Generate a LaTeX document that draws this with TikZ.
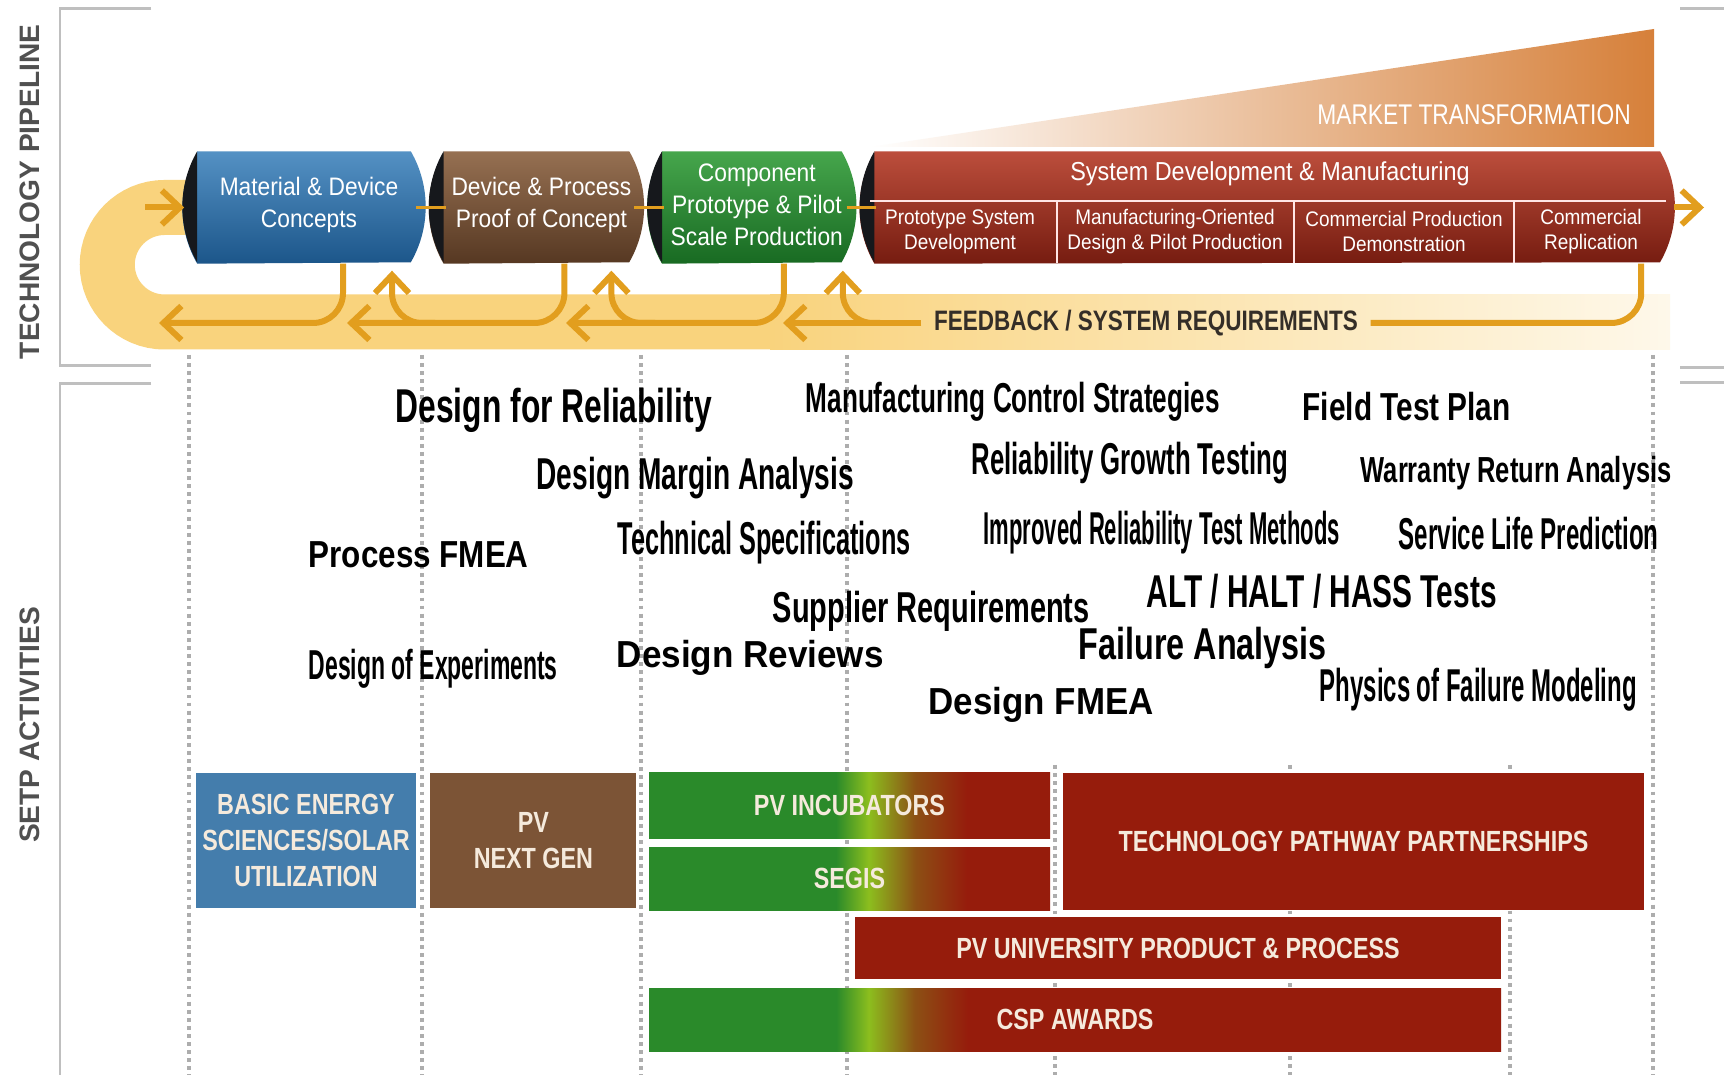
\documentclass[tikz,border=0pt]{standalone}
\usepackage{fontspec}
\usepackage{graphicx}
\setmainfont{Liberation Sans}
\newfontfamily\condfont[FakeStretch=0.8]{Liberation Sans}
\newfontfamily\pipefont[FakeStretch=0.9]{Liberation Sans}
\usetikzlibrary{positioning, arrows.meta}

\definecolor{pipeblueA}{RGB}{84,145,196}
\definecolor{pipeblueB}{RGB}{59,123,176}
\definecolor{pipeblueC}{RGB}{28,86,138}
\definecolor{pipebrownA}{RGB}{150,112,82}
\definecolor{pipebrownB}{RGB}{122,85,56}
\definecolor{pipebrownC}{RGB}{86,56,34}
\definecolor{pipegreenA}{RGB}{70,166,76}
\definecolor{pipegreenB}{RGB}{44,140,54}
\definecolor{pipegreenC}{RGB}{24,106,34}
\definecolor{piperedA}{RGB}{188,78,60}
\definecolor{piperedB}{RGB}{163,53,37}
\definecolor{piperedC}{RGB}{118,28,16}
\definecolor{capdark}{RGB}{22,24,28}
\definecolor{bandc}{RGB}{249,211,125}
\definecolor{bandfade}{RGB}{254,248,234}
\definecolor{fborange}{RGB}{226,158,30}
\definecolor{fbdark}{RGB}{52,46,40}
\definecolor{mkt}{RGB}{214,128,58}
\definecolor{besblue}{RGB}{68,125,172}
\definecolor{pvbrown}{RGB}{124,84,54}
\definecolor{pvgreen}{RGB}{42,138,42}
\definecolor{pvlime}{RGB}{140,190,30}
\definecolor{pvmid}{RGB}{140,80,20}
\definecolor{pvred}{RGB}{150,28,12}
\definecolor{cream}{RGB}{245,234,220}
\definecolor{sidegray}{RGB}{80,80,80}

% green into red fades of the SETP boxes
\pgfdeclarehorizontalshading{incub}{100bp}{color(0bp)=(pvgreen); color(48.3bp)=(pvgreen); color(52.4bp)=(pvlime); color(58.2bp)=(pvmid); color(64.7bp)=(pvred); color(100bp)=(pvred)}
\pgfdeclarehorizontalshading{cspfade}{100bp}{color(0bp)=(pvgreen); color(36bp)=(pvgreen); color(37.9bp)=(pvlime); color(40.6bp)=(pvmid); color(43.7bp)=(pvred); color(100bp)=(pvred)}

\newcommand{\act}[3]{\fontsize{#1}{#1}\selectfont\resizebox{#2}{\height}{#3}}
% pipe body with bulging ends and a dark mouth on the left
\newcommand{\pipebody}[2]{%
  \shade[#2] (#1.north west) -- (#1.north east) arc[start angle=30,end angle=-30,radius=11.1mm]
    -- (#1.south west) arc[start angle=210,end angle=150,radius=11.1mm] -- cycle;
  \fill[capdark] (#1.north west) arc[start angle=150,end angle=210,radius=11.1mm] -- cycle;}

\tikzset{
  stage/.style={rectangle, minimum height=1.11cm, inner sep=0pt}, % one stage of the pipeline
  pipetext/.style={text=white, align=center, inner sep=0pt, font=\fontsize{7.2}{9.1}\pipefont},
  pipeblue/.style={top color=pipeblueA, middle color=pipeblueB, bottom color=pipeblueC},
  pipebrown/.style={top color=pipebrownA, middle color=pipebrownB, bottom color=pipebrownC},
  pipegreen/.style={top color=pipegreenA, middle color=pipegreenB, bottom color=pipegreenC},
  pipered/.style={top color=piperedA, middle color=piperedB, bottom color=piperedC},
  subcell/.style={text=white, align=center, inner sep=0pt, font=\fontsize{6}{7.1}\pipefont},
  divider/.style={draw=white!90!red, line width=0.8pt},
  band/.style={draw=bandc, line width=5.5mm}, % the wide feedback loop
  flowthin/.style={draw=fborange, line width=0.8pt},
  flowarrow/.style={draw=fborange, line width=0.6mm, -{Straight Barb[length=1.8mm,width=3.4mm]}},
  fbline/.style={draw=fborange, line width=0.6mm, rounded corners=3mm, line join=round},
  fb/.style={fbline, -{Straight Barb[length=1.8mm,width=3.4mm]}}, % feedback arrows
  fbtext/.style={inner xsep=1.2mm, inner ysep=0pt, text=fbdark, font=\fontsize{8}{8}\condfont\bfseries},
  side/.style={rotate=90, inner sep=0pt, text=sidegray, font=\fontsize{8}{8}\selectfont\bfseries},
  bracket/.style={draw=black!25, line width=0.85pt},
  guide/.style={draw=black!32, line width=1pt, dash pattern=on 1.1pt off 1.2pt},
  act/.style={anchor=base west, inner sep=0pt, font=\bfseries}, % reliability activities
  setp/.style={rectangle, inner sep=0pt, text=cream, align=center, font=\fontsize{8.3}{10.2}\condfont\bfseries},
}

\begin{document}
\begin{tikzpicture}
  \useasboundingbox (0,0) rectangle (17.24,-10.75);
  \fill[white] (0,0) rectangle (17.24,-10.75);

  % side labels and brackets
  \node[side] (tp) at (0.30,-1.92) {TECHNOLOGY PIPELINE};
  \node[side] (sa) at (0.30,-7.25) {SETP ACTIVITIES};
  \draw[bracket] (1.51,-0.09) -- (0.60,-0.09) -- (0.60,-3.66) -- (1.51,-3.66);
  \draw[bracket] (1.51,-3.84) -- (0.60,-3.84) -- (0.60,-10.75);
  \draw[bracket] (16.80,-0.09) -- (17.24,-0.09);
  \draw[bracket] (16.80,-3.68) -- (17.24,-3.68);
  \draw[bracket] (16.80,-3.83) -- (17.24,-3.83);

  % dotted guides
  \foreach \x in {1.89,4.22,6.41,8.47,16.53}
    \draw[guide] (\x,-3.55) -- (\x,-10.75);
  \foreach \x in {10.55,12.90,15.10}
    \draw[guide] (\x,-7.65) -- (\x,-10.75);

  % market transformation wedge
  \shade[left color=white, right color=mkt] (8.70,-1.47) -- (16.54,-0.29) -- (16.54,-1.47) -- cycle;
  \node[inner sep=0pt, text=white, font=\fontsize{8.1}{8.1}\condfont] (mt) at (14.74,-1.15) {MARKET TRANSFORMATION};

  % feedback band
  \draw[band] (2.0,-2.075) -- (1.645,-2.075) arc[start angle=90,end angle=270,radius=0.5725] -- (7.7,-3.22);
  \shade[left color=bandc, right color=bandfade] (7.7,-2.945) rectangle (16.70,-3.495);

  % pipeline stages
  \node[stage, minimum width=2.122cm] (mdc) at (3.04,-2.075) {};
  \node[stage, minimum width=1.842cm, right=0.328cm of mdc] (dpp) {};
  \node[stage, minimum width=1.782cm, right=0.328cm of dpp] (gpp) {};
  \node[stage, minimum width=7.842cm, right=0.328cm of gpp] (sdm) {};
  \pipebody{mdc}{pipeblue}
  \pipebody{dpp}{pipebrown}
  \pipebody{gpp}{pipegreen}
  \pipebody{sdm}{pipered}
  \node[pipetext] (mdct) at ([xshift=0.5mm,yshift=0.3mm]mdc.center) {Material \& Device\\Concepts};
  \node[pipetext] (dppt) at ([xshift=0.5mm,yshift=0.3mm]dpp.center) {Device \& Process\\Proof of Concept};
  \node[pipetext] (gppt) at ([xshift=0.5mm,yshift=0.3mm]gpp.center) {Component\\Prototype \& Pilot\\Scale Production};

  % flow in and out
  \coordinate (in) at (1.45,-2.075);
  \coordinate (out) at (17.04,-2.075);
  \draw[flowarrow] (in) -- ([xshift=-1.3mm]mdc.west);
  \draw[flowthin] ([xshift=0.5mm]mdc.east) -- ([xshift=0.2mm]dpp.west);
  \draw[flowthin] ([xshift=0.5mm]dpp.east) -- ([xshift=0.2mm]gpp.west);
  \draw[flowthin] ([xshift=0.5mm]gpp.east) -- ([xshift=0.2mm]sdm.west);
  \draw[flowarrow] ([xshift=1.4mm]sdm.east) -- (out);

  \draw[divider] (8.70,-2.01) -- (16.66,-2.01);
  \foreach \x in {10.57,12.94,15.14}
    \draw[divider] (\x,-2.01) -- (\x,-2.63);
  \node[subcell, font=\fontsize{7.4}{7.4}\pipefont] (sdmt) at (12.70,-1.74) {System Development \& Manufacturing};
  \node[subcell] (psd) at (9.60,-2.315) {Prototype System\\Development};
  \node[subcell] (mod) at (11.75,-2.315) {Manufacturing-Oriented\\Design \& Pilot Production};
  \node[subcell] (cpd) at (14.04,-2.315) {Commercial Production\\Demonstration};
  \node[subcell] (crp) at (15.91,-2.315) {Commercial\\Replication};

  % feedback arrows
  \coordinate (t1) at (1.59,-3.23);
  \coordinate (t2) at (3.47,-3.23);
  \coordinate (t3) at (5.66,-3.23);
  \coordinate (t4) at (7.83,-3.23);
  \coordinate (j2) at (4.35,-3.23);
  \coordinate (j3) at (6.55,-3.23);
  \coordinate (j4) at (8.80,-3.23);
  \node[fbtext] (fbr) at (11.46,-3.23) {FEEDBACK / SYSTEM REQUIREMENTS};

  \draw[fb] ([xshift=3.9mm]mdc.south) |- (t1);
  \draw[fb] ([xshift=2.8mm]dpp.south) |- (t2);
  \draw[fb] (j2) -| ([xshift=8.8mm,yshift=-0.7mm]mdc.south);
  \draw[fb] ([xshift=3.2mm]gpp.south) |- (t3);
  \draw[fb] (j3) -| ([xshift=7.5mm,yshift=-0.7mm]dpp.south);
  \draw[fbline] ([xshift=37.4mm]sdm.south) |- (fbr.east);
  \draw[fb] (fbr.west) -- (t4);
  \draw[fb] (j4) -| ([xshift=9.1mm,yshift=-0.7mm]gpp.south);

  % reliability activities
  \node[act] (dfr) at (3.95,-4.23) {\act{13.5}{3.16cm}{Design for Reliability}};
  \node[act] (mcs) at (8.05,-4.13) {\act{11.9}{4.14cm}{Manufacturing Control Strategies}};
  \node[act] (ftp) at (13.02,-4.21) {\act{11.1}{2.08cm}{Field Test Plan}};
  \node[act] (dma) at (5.36,-4.90) {\act{12.7}{3.17cm}{Design Margin Analysis}};
  \node[act] (rgt) at (9.71,-4.75) {\act{12.7}{3.16cm}{Reliability Growth Testing}};
  \node[act] (wra) at (13.60,-4.83) {\act{10.3}{3.11cm}{Warranty Return Analysis}};
  \node[act] (pfm) at (3.08,-5.68) {\act{10.7}{2.20cm}{Process FMEA}};
  \node[act] (tsp) at (6.17,-5.55) {\act{13.1}{2.93cm}{Technical Specifications}};
  \node[act] (irt) at (9.83,-5.45) {\act{13.1}{3.56cm}{Improved Reliability Test Methods}};
  \node[act] (slp) at (13.98,-5.50) {\act{12.7}{2.60cm}{Service Life Prediction}};
  \node[act] (aht) at (11.46,-6.08) {\act{13.1}{3.50cm}{ALT / HALT / HASS Tests}};
  \node[act] (srq) at (7.72,-6.23) {\act{12.3}{3.17cm}{Supplier Requirements}};
  \node[act] (fan) at (10.78,-6.60) {\act{12.7}{2.48cm}{Failure Analysis}};
  \node[act] (drv) at (6.16,-6.68) {\act{10.7}{2.67cm}{Design Reviews}};
  \node[act] (doe) at (3.08,-6.80) {\act{11.9}{2.49cm}{Design of Experiments}};
  \node[act] (dfm) at (9.28,-7.15) {\act{10.7}{2.25cm}{Design FMEA}};
  \node[act] (pfmod) at (13.19,-7.02) {\act{13.1}{3.17cm}{Physics of Failure Modeling}};

  % SETP programs
  \node[setp, fill=besblue, minimum width=2.20cm, minimum height=1.35cm] (bes) at (3.06,-8.405) {BASIC ENERGY\\SCIENCES/SOLAR\\UTILIZATION};
  \node[setp, fill=pvbrown, minimum width=2.06cm, minimum height=1.35cm, right=0.13cm of bes] (pvng) {PV\\NEXT GEN};
  \node[setp, shade, shading=incub, minimum width=4.01cm, minimum height=0.65cm] (pvinc) at (8.495,-8.055) {PV INCUBATORS};
  \node[setp, shade, shading=incub, minimum width=4.01cm, minimum height=0.63cm] (segis) at (8.495,-8.785) {SEGIS};
  \node[setp, fill=pvred, minimum width=5.81cm, minimum height=1.37cm] (tpp) at (13.535,-8.415) {TECHNOLOGY PATHWAY PARTNERSHIPS};
  \node[setp, fill=pvred, minimum width=6.46cm, minimum height=0.62cm] (pvu) at (11.78,-9.48) {PV UNIVERSITY PRODUCT \& PROCESS};
  \node[setp, shade, shading=cspfade, minimum width=8.52cm, minimum height=0.63cm] (csp) at (10.75,-10.195) {CSP AWARDS};
\end{tikzpicture}
\end{document}
